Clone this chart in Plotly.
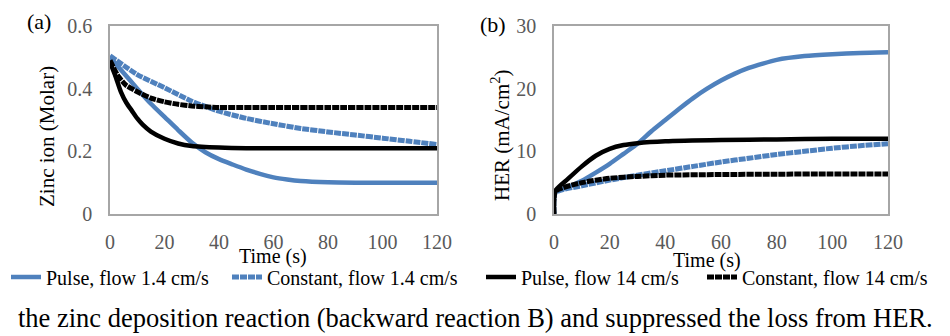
import plotly.graph_objects as go

# ---------------- data ----------------
# Panel (a): Zinc ion concentration (Molar)
t_a_pulse_low = [0, 5, 10, 15, 20, 25, 30, 35, 40, 45, 50, 55, 60, 65, 70, 80, 90, 100, 110, 120]
zn_pulse_1_4 = [0.50, 0.45, 0.40, 0.352, 0.31, 0.268, 0.228, 0.197, 0.175, 0.158, 0.142, 0.128, 0.117, 0.110, 0.105, 0.101, 0.100, 0.100, 0.100, 0.100]

t_a_const_low = [0, 10, 20, 30, 40, 50, 60, 70, 80, 90, 100, 110, 120]
zn_const_1_4 = [0.505, 0.445, 0.403, 0.36, 0.328, 0.305, 0.288, 0.273, 0.262, 0.252, 0.242, 0.232, 0.222]

t_a_pulse_high = [0, 2, 4, 6, 8, 10, 12, 15, 20, 25, 30, 40, 50, 60, 80, 100, 120]
zn_pulse_14 = [0.485, 0.44, 0.39, 0.355, 0.33, 0.305, 0.285, 0.263, 0.24, 0.225, 0.217, 0.212, 0.21, 0.21, 0.21, 0.21, 0.21]

t_a_const_high = [0, 3, 6, 8, 10, 15, 20, 25, 30, 35, 40, 60, 80, 100, 120]
zn_const_14 = [0.49, 0.44, 0.41, 0.40, 0.39, 0.37, 0.358, 0.35, 0.345, 0.342, 0.34, 0.34, 0.34, 0.34, 0.34]

# Panel (b): HER (mA/cm2)
t_b_pulse_low = [0, 0.5, 5, 10, 15, 20, 25, 30, 35, 40, 45, 50, 55, 60, 65, 70, 75, 80, 90, 100, 110, 120]
her_pulse_1_4 = [0, 3.5, 4.3, 5.3, 6.6, 8.0, 9.6, 11.2, 13.2, 15.0, 16.8, 18.5, 20.0, 21.3, 22.4, 23.3, 24.0, 24.6, 25.2, 25.5, 25.7, 25.8]

t_b_const_low = [0, 0.5, 10, 20, 30, 40, 50, 60, 70, 80, 90, 100, 110, 120]
her_const_1_4 = [0, 3.4, 4.5, 5.4, 6.2, 6.9, 7.6, 8.3, 8.9, 9.5, 10.0, 10.5, 10.9, 11.2]

t_b_pulse_high = [0, 0.5, 5, 10, 15, 20, 25, 30, 40, 60, 80, 100, 120]
her_pulse_14 = [0, 3.7, 5.6, 7.6, 9.3, 10.4, 11.0, 11.3, 11.6, 11.8, 11.9, 12.0, 12.0]

t_b_const_high = [0, 0.5, 10, 20, 30, 40, 60, 80, 100, 120]
her_const_14 = [0, 3.6, 5.0, 5.7, 6.0, 6.2, 6.3, 6.35, 6.4, 6.4]

series_names = ["Pulse, flow 1.4 cm/s", "Constant, flow 1.4 cm/s",
                "Pulse, flow 14 cm/s", "Constant, flow 14 cm/s"]

x_ticks = [0, 20, 40, 60, 80, 100, 120]
ya_ticks = [0, 0.2, 0.4, 0.6]
ya_labels = ["0", "0.2", "0.4", "0.6"]
yb_ticks = [0, 10, 20, 30]

BLUE = "#4f81bd"
BLACK = "#000000"
FONT = "Liberation Serif, Times New Roman, serif"
GRAY = "#595959"

fig = go.Figure()

styles = [
    dict(color=BLUE, width=4.5, dash="solid"),
    dict(color=BLUE, width=5, dash="7px,1px"),
    dict(color=BLACK, width=4.5, dash="solid"),
    dict(color=BLACK, width=5, dash="7px,1px"),
]
legend_ids = ["legend", "legend2", "legend3", "legend4"]
legend_x_px = [6, 227, 481, 702]

panel_a = [(t_a_pulse_low, zn_pulse_1_4), (t_a_const_low, zn_const_1_4),
           (t_a_pulse_high, zn_pulse_14), (t_a_const_high, zn_const_14)]
panel_b = [(t_b_pulse_low, her_pulse_1_4), (t_b_const_low, her_const_1_4),
           (t_b_pulse_high, her_pulse_14), (t_b_const_high, her_const_14)]

for i, (x, y) in enumerate(panel_a):
    fig.add_trace(go.Scatter(x=x, y=y, mode="lines", name=series_names[i],
                             line=dict(shape="spline", smoothing=0.6, **styles[i]),
                             xaxis="x", yaxis="y", legendgroup=str(i),
                             legend=legend_ids[i]))
for i, (x, y) in enumerate(panel_b):
    fig.add_trace(go.Scatter(x=x, y=y, mode="lines", name=series_names[i],
                             line=dict(shape="spline", smoothing=0.6, **styles[i]),
                             xaxis="x2", yaxis="y2", legendgroup=str(i),
                             showlegend=False))

ydom = [1 - 214 / 336, 1 - 26 / 336]
axis_common = dict(showgrid=False, zeroline=False, showline=True, linecolor="#a6a6a6",
                   linewidth=1.5, mirror=True, ticks="", automargin=False,
                   tickfont=dict(family=FONT, size=20, color=GRAY))

legend_common = dict(orientation="h", xanchor="left", y=1 - 277 / 336, yanchor="middle",
                     font=dict(family=FONT, size=20, color="black"),
                     itemwidth=30, bgcolor="rgba(0,0,0,0)")
legends = {lid: dict(x=px / 950, **legend_common) for lid, px in zip(legend_ids, legend_x_px)}

fig.update_layout(
    width=950, height=336,
    margin=dict(l=0, r=0, t=0, b=0, autoexpand=False),
    paper_bgcolor="white", plot_bgcolor="white",
    font=dict(family=FONT, size=20, color="black"),
    xaxis=dict(domain=[110 / 950, 437 / 950], range=[0, 120], tickvals=x_ticks,
               anchor="y", ticklabelstandoff=9, **axis_common),
    yaxis=dict(domain=ydom, range=[0, 0.6], tickvals=ya_ticks, ticktext=ya_labels,
               anchor="x", ticklabelstandoff=12, **axis_common),
    xaxis2=dict(domain=[554 / 950, 888 / 950], range=[0, 120], tickvals=x_ticks,
                anchor="y2", ticklabelstandoff=9, **axis_common),
    yaxis2=dict(domain=ydom, range=[0, 30], tickvals=yb_ticks,
                anchor="x2", ticklabelstandoff=12, **axis_common),
    showlegend=True,
    **legends,
)

annotations = [
    dict(text="(a)", x=39 / 950, y=1 - 22 / 336, font=dict(size=22)),
    dict(text="(b)", x=493 / 950, y=1 - 25 / 336, font=dict(size=22)),
    dict(text="Zinc ion (Molar)", x=47 / 950, y=1 - 137 / 336, textangle=-90, font=dict(size=21)),
    dict(text="HER (mA/cm<sup>2</sup>)", x=500 / 950, y=1 - 135 / 336, textangle=-90, font=dict(size=21)),
    dict(text="Time (s)", x=273 / 950, y=1 - 256 / 336, font=dict(size=20)),
    dict(text="Time (s)", x=707 / 950, y=1 - 260 / 336, font=dict(size=20)),
    dict(text="the zinc deposition reaction (backward reaction B) and suppressed the loss from HER.",
         x=475 / 950, y=1 - 318 / 336, font=dict(size=26.5)),
]
for a in annotations:
    a.update(xref="paper", yref="paper", showarrow=False, xanchor="center", yanchor="middle")
    a["font"].update(family=FONT, color="black")
fig.update_layout(annotations=annotations)

fig.write_html("out.html",
               config={"displayModeBar": False},
               post_script="document.body.style.margin='0';document.body.style.overflow='hidden';")
